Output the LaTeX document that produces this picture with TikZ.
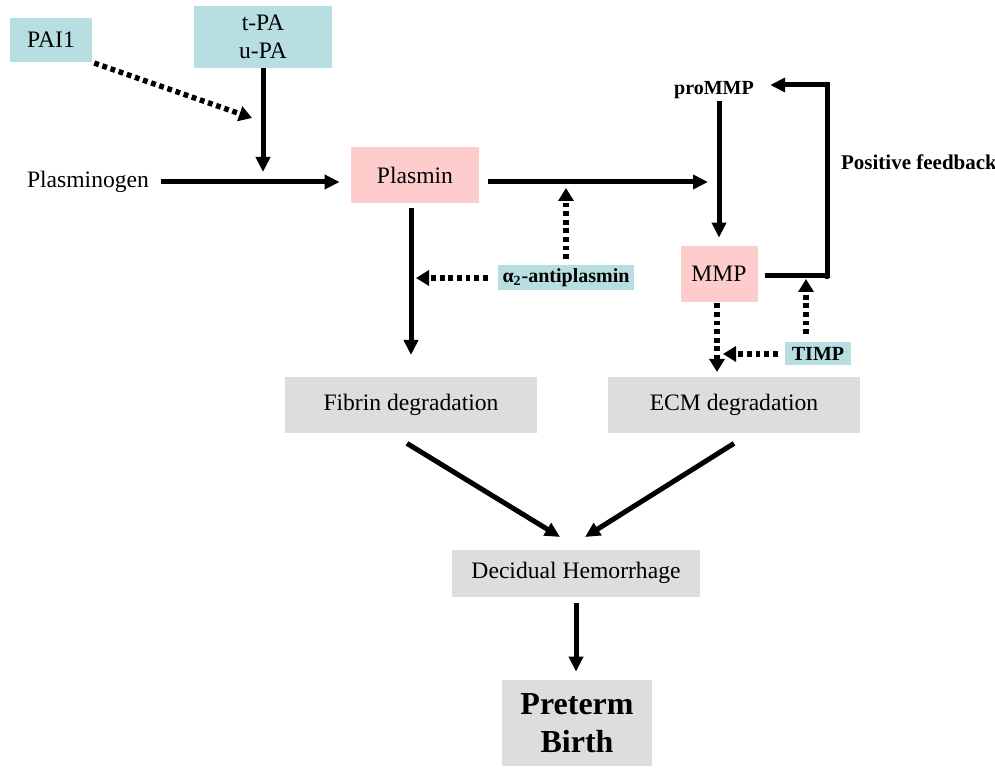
\documentclass[tikz,border=0pt]{standalone}
\usepackage{fontspec}
\setmainfont{Liberation Serif}
\usetikzlibrary{arrows.meta, positioning, calc}
\definecolor{tealbox}{RGB}{183,222,224}
\definecolor{pinkbox}{RGB}{255,204,204}
\definecolor{greybox}{RGB}{221,221,221}

\begin{document}
\begin{tikzpicture}[x=0.5pt,y=-0.5pt,
  every node/.style={font=\fontsize{11.8}{14}\selectfont, inner sep=0pt},
  enz/.style={fill=tealbox, align=center},
  act/.style={fill=pinkbox},
  res/.style={fill=greybox},
  bsmall/.style={font=\fontsize{10}{12}\selectfont\bfseries},
  arr/.style={line width=2.5pt, -{Triangle[length=7.5pt,width=7pt]}},
  dotarr/.style={line width=2.7pt, dash pattern=on 2.4pt off 1.9pt, -{Triangle[length=6.5pt,width=7.5pt]}}]
  \useasboundingbox (0,0) rectangle (995,769);

  % plasmin branch
  \node[enz, minimum width=41pt, minimum height=22pt] (pai) at (51,40) {PAI1};
  \node[enz, minimum width=69pt, minimum height=31pt] (tpa) at (263,37) {t-PA\\u-PA};
  \node (plg) at (88,182) {Plasminogen};
  \node[act, minimum width=64pt, minimum height=28pt] (plasmin) at (415,175) {Plasmin};
  \node[enz, bsmall, minimum width=68pt, minimum height=12.5pt] (antipl) at (566,278) {α\textsubscript{2}-antiplasmin};

  % MMP branch
  \node[bsmall] (prommp) at (714,90) {proMMP};
  \node[act, minimum width=38.5pt, minimum height=28pt] (mmp) at (719,274) {MMP};
  \node[enz, bsmall, minimum width=33pt, minimum height=11.5pt] (timp) at (818,354) {TIMP};
  \node[font=\fontsize{10.5}{12}\selectfont\bfseries] (fb) at (919,162) {Positive feedback};

  % outcome
  \node[res, minimum width=126pt, minimum height=28pt] (fibrin) at (411,405) {Fibrin degradation};
  \node[res, minimum width=126pt, minimum height=28pt] (ecm) at (734,405) {ECM degradation};
  \node[res, minimum width=124pt, minimum height=23.5pt] (dh) at (576,573) {Decidual Hemorrhage};
  \node[res, font=\fontsize{16}{19}\selectfont\bfseries, align=center, minimum width=75pt, minimum height=43pt] (ptb) at (577,723) {Preterm\\Birth};

  \coordinate (paiend) at (252,118);
  \coordinate (tpaend) at (263,172);
  \coordinate (mmpin) at (708,182);
  \coordinate (fibin) at (411,355);
  \coordinate (fbturn) at (827,276);
  \coordinate (fbtop) at (827,85);
  \coordinate (timpup) at (806,276);
  \coordinate (ecmin) at (717,372);
  \coordinate (dhl) at (560,537);
  \coordinate (dhr) at (585,537);

  \draw[dotarr, shorten <=1pt] (pai.south east) -- (paiend);
  \draw[arr] (tpa.south) -- (tpaend);
  \draw[arr, shorten <=6pt, shorten >=5.5pt] (plg.east) -- (plg.east -| plasmin.west);
  \draw[arr, shorten <=4.5pt] (plasmin.east |- mmpin) -- (mmpin);
  \draw[dotarr, shorten <=3pt, shorten >=3pt] (antipl.north) -- (antipl.north |- mmpin);
  \draw[arr, shorten <=2.5pt] (fibin |- plasmin.south) -- (fibin);
  \draw[dotarr, shorten <=5pt, shorten >=2.5pt] (antipl.west) -- (antipl.west -| fibin);

  \draw[arr, shorten <=1pt, shorten >=4pt] (mmp.north |- prommp.south) -- (mmp.north);
  \draw[arr, shorten <=3.5pt, shorten >=8pt] (mmp.east |- fbturn) -- (fbturn) -- (fbtop) -- (prommp.east |- fbtop);
  \fill (fbturn) circle (3.2) (fbtop) circle (3.2);
  \draw[dotarr, shorten <=4pt, shorten >=1.5pt] (timpup |- timp.north) -- (timpup);
  \draw[dotarr, shorten <=0.5pt] (ecmin |- mmp.south) -- (ecmin);
  \draw[dotarr, shorten <=3.5pt, shorten >=3pt] (timp.west) -- (timp.west -| ecmin);

  \draw[arr] ([xshift=-2pt,yshift=-5pt]fibrin.south) -- (dhl);
  \draw[arr] ([yshift=-5pt]ecm.south) -- (dhr);
  \draw[arr, shorten <=3pt, shorten >=4pt] (dh.south) -- (dh.south |- ptb.north);
\end{tikzpicture}
\end{document}
